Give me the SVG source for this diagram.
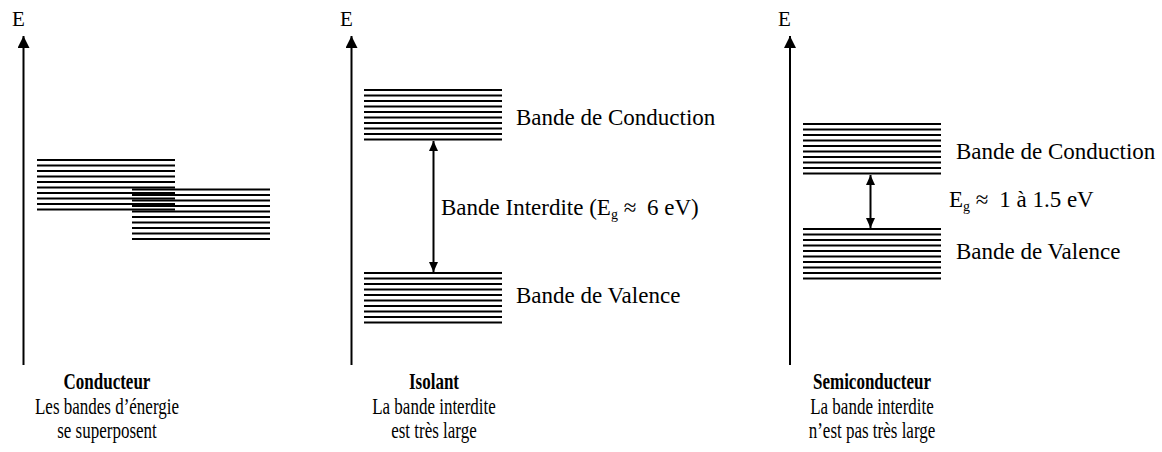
<svg xmlns="http://www.w3.org/2000/svg" xmlns:xlink="http://www.w3.org/1999/xlink" width="1162" height="452" viewBox="0 0 1162 452">
  <style>
    text { font-family: "Liberation Serif", "Times New Roman", serif; fill: #000; }
    .lbl { font-size: 23px; }
    .axlbl { font-size: 21px; }
    .cap { font-size: 17px; text-anchor: middle; }
    .capb { font-size: 17px; font-weight: bold; text-anchor: middle; }
    .sub { font-size: 14px; }
    .axis { stroke: #000; stroke-width: 2; fill: none; }
    .lvl { stroke: #000; stroke-width: 2; fill: none; }
    .gap { stroke: #000; stroke-width: 2; fill: none; }
  </style>
  <defs>
    <marker id="axhead" viewBox="0 0 12 12" refX="12" refY="6" markerWidth="12" markerHeight="12" markerUnits="userSpaceOnUse" orient="auto">
      <path d="M0,0 L12,6 L0,12 Z" fill="#000"/>
    </marker>
    <marker id="gaphead" viewBox="0 0 10 10" refX="10" refY="5" markerWidth="10" markerHeight="10" markerUnits="userSpaceOnUse" orient="auto-start-reverse">
      <path d="M0,0.5 L10,5 L0,9.5 Z" fill="#000"/>
    </marker>
    <!-- one energy band: ten closely spaced levels -->
    <path id="band" class="lvl" d="M0,0H138M0,5.5H138M0,11H138M0,16.5H138M0,22H138M0,27.5H138M0,33H138M0,38.5H138M0,44H138M0,49.5H138"/>
  </defs>

  <!-- energy axes -->
  <g id="axes">
    <line class="axis" x1="23.5" y1="365" x2="23.5" y2="36" marker-end="url(#axhead)"/>
    <line class="axis" x1="351.5" y1="365" x2="351.5" y2="36" marker-end="url(#axhead)"/>
    <line class="axis" x1="790" y1="365" x2="790" y2="36" marker-end="url(#axhead)"/>
    <text class="axlbl" x="12" y="26">E</text>
    <text class="axlbl" x="340" y="26">E</text>
    <text class="axlbl" x="778" y="26">E</text>
  </g>

  <!-- conductor: overlapping bands -->
  <g id="conducteur">
    <use xlink:href="#band" transform="translate(37,160)"/>
    <use xlink:href="#band" transform="translate(132,189.5)"/>
    <!-- captions are drawn tall and narrow -->
    <g transform="scale(1,1.3)">
      <text class="capb" x="107" y="299.2">Conducteur</text>
      <text class="cap" x="107" y="318.5">Les bandes d’énergie</text>
      <text class="cap" x="107" y="336.9">se superposent</text>
    </g>
  </g>

  <!-- insulator: wide gap -->
  <g id="isolant">
    <use xlink:href="#band" transform="translate(364,90)"/>
    <use xlink:href="#band" transform="translate(364,273)"/>
    <text class="lbl" x="516" y="125">Bande de Conduction</text>
    <text class="lbl" x="441" y="215">Bande Interdite (E<tspan class="sub" dy="4">g</tspan><tspan dy="-4"> ≈ </tspan><tspan dx="5">6 eV)</tspan></text>
    <text class="lbl" x="516" y="303">Bande de Valence</text>
    <g transform="scale(1,1.3)">
      <text class="capb" x="434" y="299.2">Isolant</text>
      <text class="cap" x="434" y="318.5">La bande interdite</text>
      <text class="cap" x="434" y="336.9">est très large</text>
    </g>
  </g>

  <!-- semiconductor: narrow gap -->
  <g id="semiconducteur">
    <use xlink:href="#band" transform="translate(803,124)"/>
    <use xlink:href="#band" transform="translate(803,229)"/>
    <text class="lbl" x="956" y="159">Bande de Conduction</text>
    <text class="lbl" x="949" y="207">E<tspan class="sub" dy="4">g</tspan><tspan dy="-4"> ≈ </tspan><tspan dx="5">1 à 1.5 eV</tspan></text>
    <text class="lbl" x="956" y="259">Bande de Valence</text>
    <g transform="scale(1,1.3)">
      <text class="capb" x="872" y="299.2">Semiconducteur</text>
      <text class="cap" x="872" y="318.5">La bande interdite</text>
      <text class="cap" x="872" y="336.9">n’est pas très large</text>
    </g>
  </g>

  <!-- band-gap arrows -->
  <g id="connectors">
    <line class="gap" x1="433.5" y1="141" x2="433.5" y2="272" marker-start="url(#gaphead)" marker-end="url(#gaphead)"/>
    <line class="gap" x1="870.5" y1="175" x2="870.5" y2="228" marker-start="url(#gaphead)" marker-end="url(#gaphead)"/>
  </g>
</svg>
